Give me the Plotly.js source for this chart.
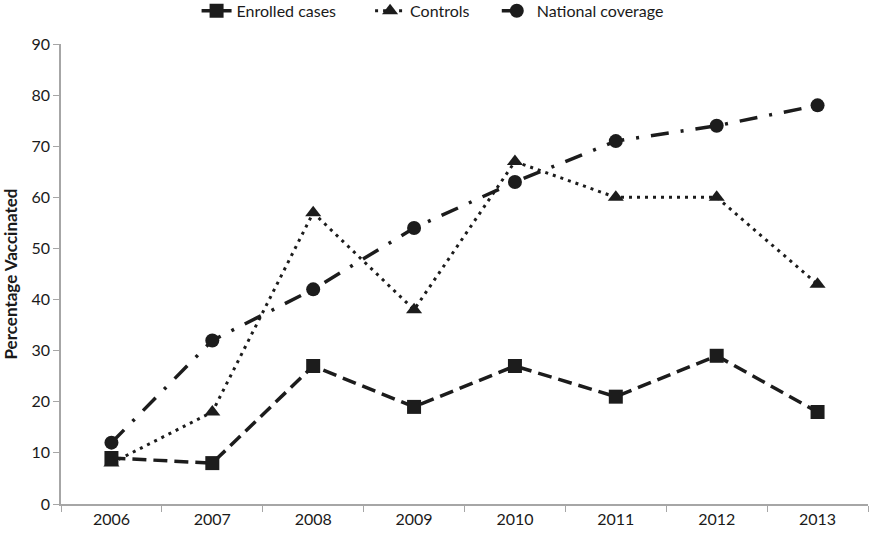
<!DOCTYPE html>
<html>
<head>
<meta charset="utf-8">
<script src="https://cdn.plot.ly/plotly-3.0.1.min.js"></script>
<style>html,body{margin:0;padding:0;background:#fff;}#chart{width:875px;height:538px;}</style>
</head>
<body>
<div id="chart"></div>
<script>
const years = ["2006","2007","2008","2009","2010","2011","2012","2013"];
const enrolledCases = [9, 8, 27, 19, 27, 21, 29, 18];
const controls = [8, 18, 57, 38, 67, 60, 60, 43];
const nationalCoverage = [12, 32, 42, 54, 63, 71, 74, 78];
const yTicks = [0,10,20,30,40,50,60,70,80,90];

const ink = '#1c1c1c';
const traces = [
  {x: years, y: enrolledCases, name: 'Enrolled cases', type: 'scatter', mode: 'lines+markers', legend: 'legend',
   line: {color: ink, width: 3.5, dash: '14px,7px'}, marker: {symbol: 'square', size: 14, color: ink}},
  {x: years, y: controls, name: 'Controls', type: 'scatter', mode: 'lines+markers', legend: 'legend2',
   line: {color: ink, width: 3, dash: '3px,5px'}, marker: {symbol: 'triangle-up', size: 14, color: ink}},
  {x: years, y: nationalCoverage, name: 'National coverage', type: 'scatter', mode: 'lines+markers', legend: 'legend3',
   line: {color: ink, width: 3.5, dash: '18px,12px,3px,12px'}, marker: {symbol: 'circle', size: 14, color: ink}}
];

const legBase = {orientation: 'h', xanchor: 'left', y: 1.072, yanchor: 'middle',
                 font: {size: 16, color: '#1a1a1a'}, bgcolor: 'rgba(0,0,0,0)'};

const layout = {
  width: 875, height: 538,
  margin: {l: 61, r: 7, t: 44, b: 34, autoexpand: false},
  paper_bgcolor: '#fff', plot_bgcolor: '#fff',
  font: {family: 'Lato, Open Sans, sans-serif', color: '#1a1a1a', size: 16},
  showlegend: true,
  legend: Object.assign({}, legBase, {x: 0.168}),
  legend2: Object.assign({}, legBase, {x: 0.383}),
  legend3: Object.assign({}, legBase, {x: 0.54}),
  xaxis: {
    type: 'category', range: [-0.5, 7.5], showgrid: false, zeroline: false,
    showline: true, linecolor: '#a6a6a6', linewidth: 1.5,
    ticks: 'outside', ticklen: 6, tickcolor: '#a6a6a6', tickson: 'boundaries',
    tickfont: {size: 16, color: '#1a1a1a'}
  },
  yaxis: {
    range: [0, 90], tickvals: yTicks, showgrid: false, zeroline: false,
    showline: true, linecolor: '#a6a6a6', linewidth: 1.5,
    ticks: 'outside', ticklen: 6, tickcolor: '#a6a6a6',
    tickfont: {size: 16, color: '#1a1a1a'},
    title: {text: '<b>Percentage Vaccinated</b>', font: {size: 17, color: '#1a1a1a'}, standoff: 10}
  }
};

Plotly.newPlot('chart', traces, layout, {displayModeBar: false});
</script>
</body>
</html>
